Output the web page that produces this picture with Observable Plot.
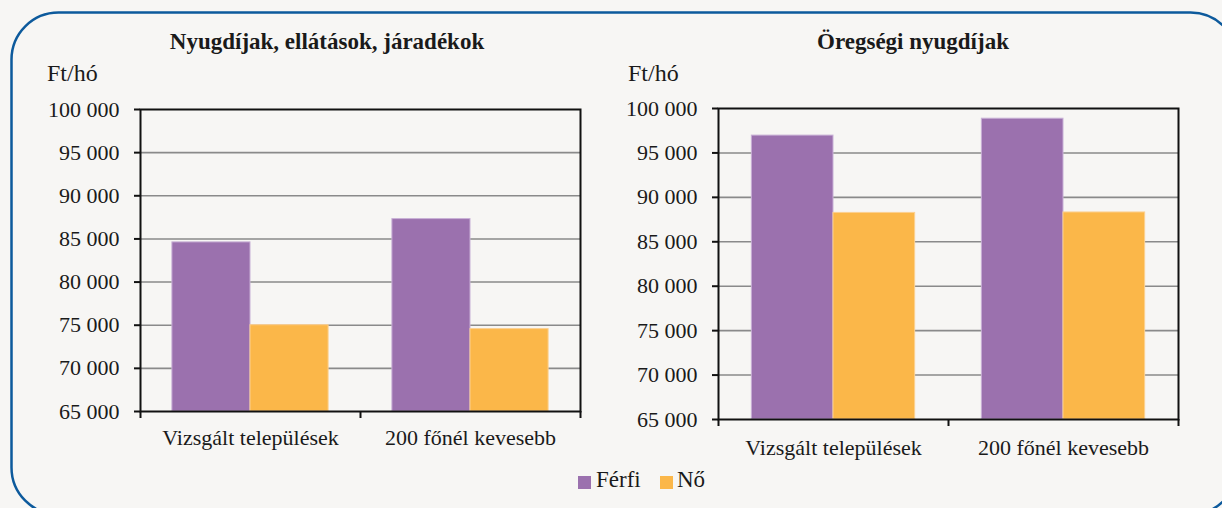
<!DOCTYPE html>
<html>
<head>
<meta charset="utf-8">
<script src="https://cdn.jsdelivr.net/npm/d3@7"></script>
<script src="https://cdn.jsdelivr.net/npm/@observablehq/plot@0.6"></script>
<style>
  html, body { margin: 0; padding: 0; width: 1222px; height: 508px; overflow: hidden; background: #f7f6f4; }
  body { position: relative; font-family: 'Liberation Serif', serif; color: #1a1a1a; }
  #border { position: absolute; left: 0; top: 0; }
  .title { position: absolute; top: 29px; font-family: 'Liberation Serif', serif; font-weight: bold; font-size: 23px; transform: translateX(-50%); white-space: nowrap; }
  .unit { position: absolute; top: 60px; font-family: 'Liberation Serif', serif; font-size: 24px; }
  .chart { position: absolute; top: 90px; }
  .lg { position: absolute; font-family: 'Liberation Serif', serif; font-size: 23px; top: 467px; white-space: nowrap; }
  .sw { position: absolute; width: 13px; height: 13px; top: 476px; }
</style>
</head>
<body>
<svg id="border" width="1222" height="508"><rect x="11.5" y="12.5" width="1226" height="502" rx="47" ry="47" fill="none" stroke="#0d5a9c" stroke-width="2.5"/></svg>
<div class="title" style="left:327px">Nyugdíjak, ellátások, járadékok</div>
<div class="title" style="left:913px">Öregségi nyugdíjak</div>
<div class="unit" style="left:47px">Ft/hó</div>
<div class="unit" style="left:628px">Ft/hó</div>
<div id="left" class="chart" style="left:0px"></div>
<div id="right" class="chart" style="left:600px"></div>
<div id="legend"></div>
<script>
// ---- data ----
const categories = ["Vizsgált települések", "200 főnél kevesebb"];
const series = ["Férfi", "Nő"];
const colors = ["#9b71ae", "#fbb749"];
const outlines = ["#c8b0d6", "#fcd090"];
const leftFerfi = [84600, 87300];
const leftNo = [75000, 74550];
const rightFerfi = [96950, 98850];
const rightNo = [88250, 88300];
const yTicks = [65000, 70000, 75000, 80000, 85000, 90000, 95000, 100000];

const fmt = d3.formatLocale({decimal: ",", thousands: " ", grouping: [3], currency: ["", ""]}).format(",");

function panel(valsF, valsN, opts) {
  const width = 600, height = 370;
  const bw = (width - opts.ml - opts.mr) / categories.length;
  const pad = 0.145 * bw, bar = 0.355 * bw;
  const rowsF = categories.map((c, i) => ({cat: c, value: valsF[i]}));
  const rowsN = categories.map((c, i) => ({cat: c, value: valsN[i]}));
  return Plot.plot({
    width, height,
    marginLeft: opts.ml, marginRight: opts.mr, marginTop: opts.mt, marginBottom: opts.mb,
    style: {background: "transparent", fontFamily: "'Liberation Serif', serif", fontSize: "22px", color: "#1a1a1a", overflow: "visible"},
    x: {domain: categories, padding: 0, label: null},
    y: {domain: [65000, 100000], label: null},
    marks: [
      Plot.ruleY(yTicks.slice(1, -1), {stroke: "#8a8a8a", strokeWidth: 1.6}),
      Plot.barY(rowsF, {x: "cat", y1: 65000, y2: "value", fill: colors[0], stroke: outlines[0], strokeWidth: 1,
        insetLeft: pad, insetRight: bw - pad - bar}),
      Plot.barY(rowsN, {x: "cat", y1: 65000, y2: "value", fill: colors[1], stroke: outlines[1], strokeWidth: 1,
        insetLeft: pad + bar, insetRight: pad}),
      Plot.frame({stroke: "#111", strokeWidth: 2}),
      Plot.axisY({ticks: yTicks, tickFormat: fmt, tickSize: 6, tickPadding: 15, stroke: "#111", strokeWidth: 2, fill: "#1a1a1a"}),
      Plot.axisX({tickSize: 7, tickFormat: () => "", dx: -bw / 2, stroke: "#111", strokeWidth: 2}),
      Plot.axisX({ticks: [categories[categories.length - 1]], tickSize: 7, tickFormat: () => "", dx: bw / 2, stroke: "#111", strokeWidth: 2}),
      Plot.axisX({tickSize: 0, tickPadding: opts.xp, fill: "#1a1a1a"})
    ]
  });
}

document.getElementById("left").appendChild(panel(leftFerfi, leftNo, {ml: 140, mr: 20, mt: 19, mb: 49, xp: 18}));
document.getElementById("right").appendChild(panel(rightFerfi, rightNo, {ml: 118, mr: 22, mt: 18, mb: 41, xp: 20}));

const legend = document.getElementById("legend");
const swX = [578, 660], txtX = [596, 677];
series.forEach((s, i) => {
  const sw = document.createElement("div");
  sw.className = "sw"; sw.style.left = swX[i] + "px"; sw.style.background = colors[i];
  const t = document.createElement("div");
  t.className = "lg"; t.style.left = txtX[i] + "px"; t.textContent = s;
  legend.appendChild(sw); legend.appendChild(t);
});
</script>
</body>
</html>
